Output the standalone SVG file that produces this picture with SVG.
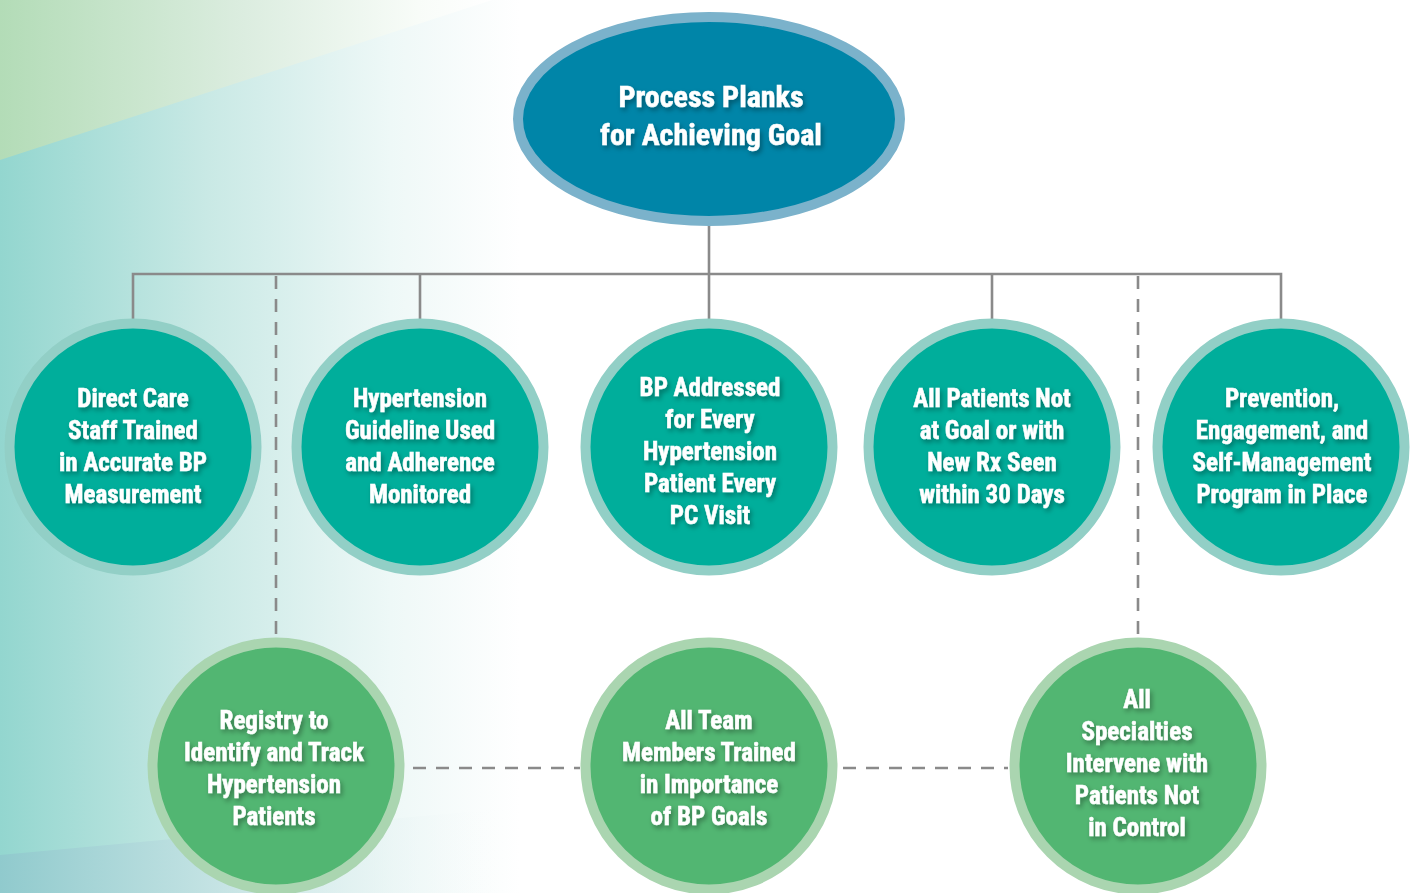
<svg xmlns="http://www.w3.org/2000/svg" width="1416" height="893" viewBox="0 0 1416 893">
<defs>
<linearGradient id="bgTeal" x1="0" y1="0" x2="1" y2="0">
<stop offset="0" stop-color="#93d6cf"/>
<stop offset="0.4" stop-color="#c9e9e5"/>
<stop offset="0.75" stop-color="#eef8f7"/>
<stop offset="1" stop-color="#ffffff"/>
</linearGradient>
<linearGradient id="bgGreen" x1="0" y1="0" x2="1" y2="0">
<stop offset="0" stop-color="#b3dcb7"/>
<stop offset="0.5" stop-color="#dcede0"/>
<stop offset="0.85" stop-color="#f8fcf8"/>
<stop offset="1" stop-color="#ffffff"/>
</linearGradient>
<linearGradient id="bgBottom" x1="0" y1="0" x2="1" y2="0">
<stop offset="0" stop-color="#90cacd"/>
<stop offset="0.5" stop-color="#cfe8e8"/>
<stop offset="1" stop-color="#ffffff" stop-opacity="0"/>
</linearGradient>
<filter id="ts" x="-10%" y="-30%" width="130%" height="180%">
<feDropShadow dx="2" dy="3" stdDeviation="2.5" flood-color="#000000" flood-opacity="0.35"/>
</filter>
</defs>
<style>
.solid{stroke:#8a8a8a;stroke-width:2.6;fill:none}
.dash{stroke:#8a8a8a;stroke-width:2.6;fill:none;stroke-dasharray:13 10}
.teal{fill:#00ae9b;stroke:#92cfc6;stroke-width:10}
.green{fill:#52b672;stroke:#aad5b0;stroke-width:10}
.top{fill:#0085a8;stroke:#7bb2cb;stroke-width:10}
text{font-family:"Liberation Sans Narrow","Roboto Condensed","Liberation Sans",Arial,sans-serif;font-weight:bold;fill:#ffffff;stroke:#ffffff;stroke-width:0.5;text-anchor:middle;filter:url(#ts)}
.t{font-size:25px}
.h{font-size:30px}
</style>
<rect x="0" y="0" width="1416" height="893" fill="#ffffff"/>
<rect x="0" y="0" width="520" height="893" fill="url(#bgTeal)"/>
<polygon points="0,0 492,0 0,160" fill="url(#bgGreen)"/>
<polygon points="0,855 520,807 520,893 0,893" fill="url(#bgBottom)"/>

<g id="connectors">
<line class="solid" x1="709" y1="220" x2="709" y2="325"/>
<polyline class="solid" points="133,325 133,274 1281,274 1281,325"/>
<line class="solid" x1="420" y1="274" x2="420" y2="325"/>
<line class="solid" x1="992" y1="274" x2="992" y2="325"/>
<line class="dash" x1="276" y1="276" x2="276" y2="638"/>
<line class="dash" x1="1138" y1="276" x2="1138" y2="638"/>
<line class="dash" x1="413" y1="768" x2="580" y2="768"/>
<line class="dash" x1="843" y1="768" x2="1008" y2="768"/>
</g>

<g id="goal">
<ellipse class="top" cx="709" cy="119" rx="191" ry="102"/>
<text class="h" x="711" y="107">Process Planks</text>
<text class="h" x="711" y="145">for Achieving Goal</text>
</g>

<g id="n1">
<circle class="teal" cx="133" cy="447" r="123.5"/>
<text class="t" x="133" y="407">Direct Care</text>
<text class="t" x="133" y="439">Staff Trained</text>
<text class="t" x="133" y="471">in Accurate BP</text>
<text class="t" x="133" y="503">Measurement</text>
</g>
<g id="n2">
<circle class="teal" cx="420" cy="447" r="123.5"/>
<text class="t" x="420" y="407">Hypertension</text>
<text class="t" x="420" y="439">Guideline Used</text>
<text class="t" x="420" y="471">and Adherence</text>
<text class="t" x="420" y="503">Monitored</text>
</g>
<g id="n3">
<circle class="teal" cx="709" cy="447" r="123.5"/>
<text class="t" x="710" y="396">BP Addressed</text>
<text class="t" x="710" y="428">for Every</text>
<text class="t" x="710" y="460">Hypertension</text>
<text class="t" x="710" y="492">Patient Every</text>
<text class="t" x="710" y="524">PC Visit</text>
</g>
<g id="n4">
<circle class="teal" cx="992" cy="447" r="123.5"/>
<text class="t" x="992" y="407">All Patients Not</text>
<text class="t" x="992" y="439">at Goal or with</text>
<text class="t" x="992" y="471">New Rx Seen</text>
<text class="t" x="992" y="503">within 30 Days</text>
</g>
<g id="n5">
<circle class="teal" cx="1281" cy="447" r="123.5"/>
<text class="t" x="1282" y="407">Prevention,</text>
<text class="t" x="1282" y="439">Engagement, and</text>
<text class="t" x="1282" y="471">Self-Management</text>
<text class="t" x="1282" y="503">Program in Place</text>
</g>
<g id="b1">
<circle class="green" cx="276" cy="766" r="123.5"/>
<text class="t" x="274" y="729">Registry to</text>
<text class="t" x="274" y="761">Identify and Track</text>
<text class="t" x="274" y="793">Hypertension</text>
<text class="t" x="274" y="825">Patients</text>
</g>
<g id="b2">
<circle class="green" cx="709" cy="766" r="123.5"/>
<text class="t" x="709" y="729">All Team</text>
<text class="t" x="709" y="761">Members Trained</text>
<text class="t" x="709" y="793">in Importance</text>
<text class="t" x="709" y="825">of BP Goals</text>
</g>
<g id="b3">
<circle class="green" cx="1138" cy="766" r="123.5"/>
<text class="t" x="1137" y="708">All</text>
<text class="t" x="1137" y="740">Specialties</text>
<text class="t" x="1137" y="772">Intervene with</text>
<text class="t" x="1137" y="804">Patients Not</text>
<text class="t" x="1137" y="836">in Control</text>
</g>
</svg>
